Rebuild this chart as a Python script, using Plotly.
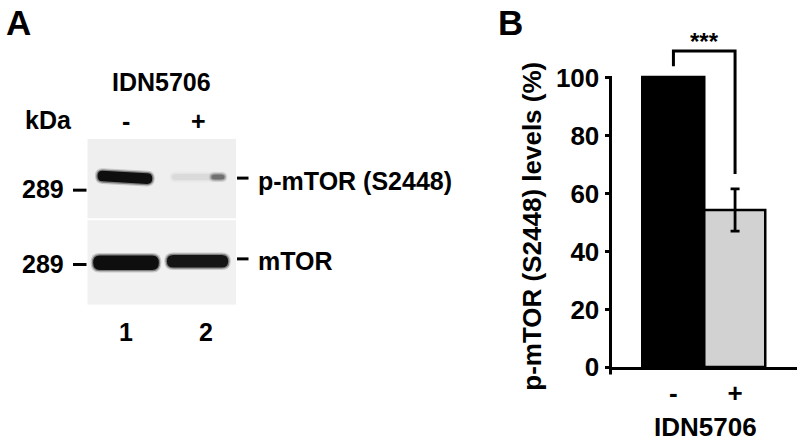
import plotly.graph_objects as go

# ---------------- data ----------------
bar_categories = ["-", "+"]
levels = [100, 54.3]          # p-mTOR (S2448) levels (%)
sem = [0, 7.3]
bar_colors = ["#000000", "#d2d2d2"]

lanes = [1, 2]
lane_labels = ["1", "2"]
treatment = ["-", "+"]
pmtor_band = [1.0, 0.08]      # relative band intensity, p-mTOR (S2448)
mtor_band = [1.0, 0.97]       # relative band intensity, total mTOR
kda_labels = ["289", "289"]
blot_labels = ["p-mTOR (S2448)", "mTOR"]

W, H = 800, 439          # reference frame (layout positions are fractions of it)
H_FIG = 456              # rendered height (the capture maps ~456 px onto 439)
FONT = "Liberation Sans, Arial, sans-serif"


def X(px):
    return px / W


def Y(py):
    return 1 - py / H


fig = go.Figure()

# ---------------- panel B : bar chart ----------------
Y_RANGE = [0, 116]
y_dom = [Y(365.7), Y(365.7 - 116 * 2.885)]
x_dom = [X(610.5), X(797)]

fig.add_trace(go.Bar(
    x=[0, 1], y=levels, width=1,
    marker=dict(color=bar_colors, line=dict(color="black", width=2.5)),
    error_y=dict(type="data", array=sem, visible=True, color="black",
                 thickness=2.8, width=4.5),
    xaxis="x", yaxis="y", showlegend=False,
))


def yb(v):
    return y_dom[0] + (v - Y_RANGE[0]) / (Y_RANGE[1] - Y_RANGE[0]) * (y_dom[1] - y_dom[0])


fig.update_layout(
    xaxis=dict(domain=x_dom, range=[-1.021, 2.005], tickvals=[0, 1],
               ticktext=bar_categories, showline=True, linecolor="black",
               linewidth=3, ticks="", showgrid=False, zeroline=False,
               tickfont=dict(family=FONT, size=26, color="black", weight="bold"),
               anchor="y", fixedrange=True),
    yaxis=dict(domain=y_dom, range=Y_RANGE, tickvals=[0, 20, 40, 60, 80, 100],
               showline=False, ticks="outside", ticklen=5, tickwidth=3,
               tickcolor="black", showgrid=False, zeroline=False,
               tickfont=dict(family=FONT, size=26, color="black", weight="bold"),
               anchor="x", fixedrange=True),
)

shapes = []
# y-axis line (0..100, slightly below zero like the original)
shapes.append(dict(type="line", xref="paper", yref="paper",
                   x0=x_dom[0], x1=x_dom[0], y0=yb(-2.5), y1=yb(100.5),
                   line=dict(color="black", width=3)))
# significance bracket
sig_y = 109.2
shapes.append(dict(type="path", xref="x", yref="y",
                   path=f"M 0,{levels[0] + 3.9} L 0,{sig_y} L 1,{sig_y} L 1,{levels[1] + sem[1] + 5.1}",
                   line=dict(color="black", width=3)))

annotations = []


def txt(x, y, text, font, xref="paper", yref="paper", xanchor="center",
        yanchor="middle", **kw):
    annotations.append(dict(x=x, y=y, xref=xref, yref=yref, text=text,
                            xanchor=xanchor, yanchor=yanchor, showarrow=False,
                            font=font, **kw))


fB = dict(family=FONT, size=26, color="black", weight="bold")
txt(0.5, sig_y + 3.4, "***", dict(family=FONT, size=24, color="black", weight="bold"),
    xref="x", yref="y")
txt(X(531.7), Y(225), "p-mTOR (S2448) levels (%)", fB, textangle=-90)
txt(X(705), Y(424.8), "IDN5706", fB)

# ---------------- panel A : western blot ----------------
BLOT_X = [0.47, 2.507]
fig.update_layout(
    xaxis2=dict(domain=[X(87.3), X(236)], range=BLOT_X, visible=False,
                anchor="y2", fixedrange=True),
    yaxis2=dict(domain=[Y(303.3), Y(138.3)], range=[165, 0], visible=False,
                anchor="x2", fixedrange=True),
)
# blot membranes
shapes.append(dict(type="rect", xref="x2", yref="y2", x0=BLOT_X[0], x1=BLOT_X[1],
                   y0=0, y1=79, fillcolor="#efefef", line=dict(width=0), layer="below"))
shapes.append(dict(type="rect", xref="x2", yref="y2", x0=BLOT_X[0], x1=BLOT_X[1],
                   y0=81, y1=165, fillcolor="#f1f1f1", line=dict(width=0), layer="below"))


def grey(intensity):
    g = int(round(236 - intensity * 222))
    return f"rgb({g},{g},{g})"


def band(xc, dx0, dx1, yc, h, color, opacity=1.0, rx=0.07, droop=0.0):
    x0, x1 = xc + dx0, xc + dx1
    y0, y1 = yc - h / 2, yc + h / 2
    p = (f"M {x0 + rx},{y0} L {x1 - rx},{y0 + droop} Q {x1},{y0 + droop} {x1},{yc + droop} "
         f"Q {x1},{y1 + droop} {x1 - rx},{y1 + droop} L {x0 + rx},{y1} Q {x0},{y1} {x0},{yc} "
         f"Q {x0},{y0} {x0 + rx},{y0} Z")
    return dict(type="path", xref="x2", yref="y2", path=p, fillcolor=color,
                opacity=opacity, line=dict(width=0))


def soft_band(lane, d0, d1, yc, h, color, rx=0.07, droop=0.0):
    shapes.append(band(lane, d0 - 0.035, d1 + 0.035, yc, h + 5, color, 0.18, rx + 0.03, droop))
    shapes.append(band(lane, d0 - 0.018, d1 + 0.018, yc, h + 2.5, color, 0.4, rx + 0.015, droop))
    shapes.append(band(lane, d0, d1, yc, h, color, 1.0, rx, droop))


# p-mTOR (S2448) row
pm_geom = [(-0.39, 0.36, 37.0, 10.5, 2.5), (-0.37, 0.356, 38.0, 6.0, 0.0)]
for lane, inten, (d0, d1, yc, h, dr) in zip(lanes, pmtor_band, pm_geom):
    soft_band(lane, d0, d1, yc, h, grey(inten), droop=dr)
# darker right end of the faint lane-2 band
soft_band(lanes[1], 0.17, 0.35, 37.8, 5.0, grey(pmtor_band[1] * 7), rx=0.05)

# mTOR row
mt_geom = [(-0.45, 0.45, 123.3, 14.5), (-0.44, 0.40, 121.8, 12.5)]
for lane, inten, (d0, d1, yc, h) in zip(lanes, mtor_band, mt_geom):
    soft_band(lane, d0, d1, yc, h, grey(inten), rx=0.09)

# marker dashes
for py in [189.3, 263.3]:
    shapes.append(dict(type="line", xref="paper", yref="paper", x0=X(73), x1=X(86.5),
                       y0=Y(py), y1=Y(py), line=dict(color="black", width=3)))
for py in [177.3, 257.7]:
    shapes.append(dict(type="line", xref="paper", yref="paper", x0=X(237), x1=X(248.5),
                       y0=Y(py), y1=Y(py), line=dict(color="black", width=3)))

fA = dict(family=FONT, size=25, color="black", weight="bold")
fL = dict(family=FONT, size=35, color="black", weight="bold")
txt(X(4), Y(22), "A", fL, xanchor="left")
txt(X(496), Y(22.5), "B", fL, xanchor="left")
txt(X(161.7), Y(81.7), "IDN5706", fA)
txt(X(48.3), Y(119.3), "kDa", fA)
for lane, t in zip(lanes, treatment):
    txt(lane, Y(120), t, fA, xref="x2")
for lbl, py in zip(kda_labels, [188.3, 262.5]):
    txt(X(66), Y(py), lbl, fA, xanchor="right")
for lbl, py in zip(blot_labels, [180, 260]):
    txt(X(256), Y(py), lbl, fA, xanchor="left")
for lbl, px in zip(lane_labels, [126, 206]):
    txt(X(px), Y(330), lbl, fA)

fig.update_layout(
    width=W, height=H_FIG, margin=dict(l=0, r=0, t=0, b=0),
    paper_bgcolor="white", plot_bgcolor="rgba(0,0,0,0)",
    shapes=shapes, annotations=annotations, showlegend=False,
    bargap=0,
)
fig.write_html(
    "out.html",
    config={"displayModeBar": False},
    post_script=(
        "var s=function(e){e.style.margin='0';e.style.padding='0';e.style.overflow='hidden';};"
        "s(document.documentElement);s(document.body);"
    ),
)
